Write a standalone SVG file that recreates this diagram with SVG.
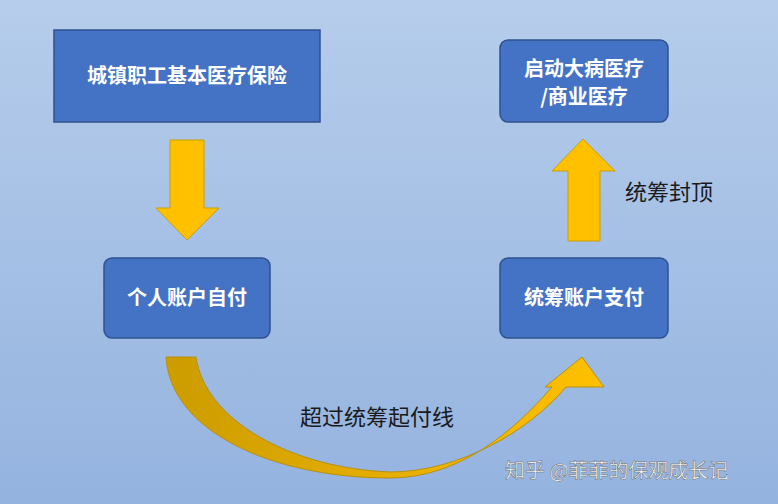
<svg xmlns="http://www.w3.org/2000/svg" width="778" height="504" viewBox="0 0 778 504">
<defs>
<linearGradient id="bg" x1="0" y1="0" x2="0" y2="1"><stop offset="0" stop-color="#B6CDEB"/><stop offset="1" stop-color="#94B3DF"/></linearGradient>
<linearGradient id="cg" x1="0" y1="0" x2="1" y2="0"><stop offset="0" stop-color="#CC9C00"/><stop offset="1" stop-color="#FFC000"/></linearGradient>
<style>
.box{fill:#4472C4;stroke:#2F528F;stroke-width:1.5}
.bt{fill:#fff;font-family:"Noto Sans CJK SC",sans-serif;font-size:20px;font-weight:bold;text-anchor:middle}
.lt{fill:#1a1a1a;font-family:"Noto Sans CJK SC",sans-serif;font-size:22px}
.arr{fill:#FFC000;stroke:#C9A000;stroke-width:1}
</style>
</defs>
<rect width="778" height="504" fill="url(#bg)"/>
<g id="connectors">
<polygon class="arr" points="170,140 204,140 204,208 219,208 187,240 156,208 170,208"/>
<polygon class="arr" points="568,241 600,241 600,171 615,171 583,139 552,171 568,171"/>
<path fill="url(#cg)" stroke="#B8900A" stroke-width="1" d="M166,357 L196,357 C205,420 290,468 390,472 C460,472 530,430 566,387 L604,387 L582,357 L545,387 L552,387 C515,430 460,478 390,478 C270,478 170,430 166,357 Z"/>
</g>
<g id="n1"><rect class="box" x="54" y="30" width="266" height="92"/><text class="bt" x="187" y="83">城镇职工基本医疗保险</text></g>
<g id="n2"><rect class="box" x="500" y="40" width="168" height="82" rx="8"/><text class="bt" x="584" y="76">启动大病医疗</text><text class="bt" x="584" y="104">/商业医疗</text></g>
<g id="n3"><rect class="box" x="104" y="258" width="166" height="80" rx="8"/><text class="bt" x="187" y="305">个人账户自付</text></g>
<g id="n4"><rect class="box" x="500" y="258" width="168" height="80" rx="8"/><text class="bt" x="584" y="305">统筹账户支付</text></g>
<text class="lt" x="625" y="200">统筹封顶</text>
<text class="lt" x="300" y="425">超过统筹起付线</text>
<text x="505" y="478" fill="#fff" stroke="#666" stroke-width="0.5" font-family="Noto Sans CJK SC,sans-serif" font-size="20">知乎 @菲菲的保观成长记</text>
</svg>
